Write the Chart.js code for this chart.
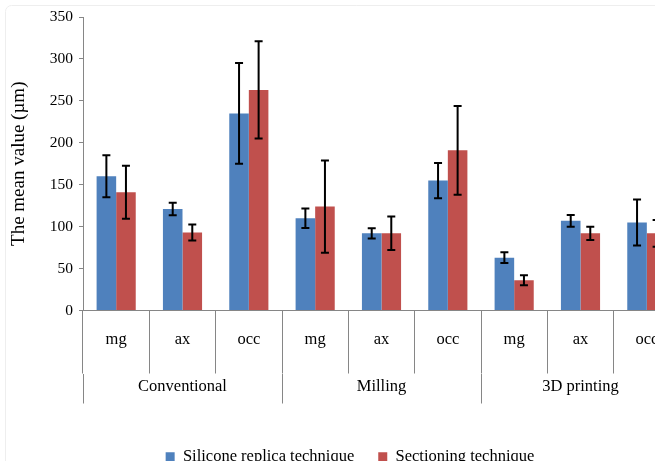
<!DOCTYPE html>
<html>
<head>
<meta charset="utf-8">
<script src="https://cdn.jsdelivr.net/npm/chart.js@4"></script>
<style>
  html, body { margin: 0; padding: 0; background: #fff; overflow: hidden; }
  #wrap { width: 700px; height: 475px; position: relative; }
</style>
</head>
<body>
<div id="wrap"><canvas id="gapChart"></canvas></div>
<script>
// data
const regions = ['mg', 'ax', 'occ', 'mg', 'ax', 'occ', 'mg', 'ax', 'occ'];
const techniques = ['Conventional', 'Milling', '3D printing'];
const siliconeMeans = [160, 121, 235, 110, 92, 155, 63, 107, 105];
const siliconeSD = [25, 7.5, 60, 11.5, 6, 21, 6.5, 7, 27.5];
const sectioningMeans = [141, 93, 263, 124, 92, 191, 36, 92, 92];
const sectioningSD = [31.5, 9.5, 58, 55, 20, 53, 6, 8, 16];
const yTicks = [0, 50, 100, 150, 200, 250, 300, 350];

const serifFamily = "'Liberation Serif', 'DejaVu Serif', serif";
const axisGrey = '#868686';

// whiskers drawn from the y scale
const errorBars = {
    id: 'errorBars',
    afterDatasetsDraw(chart) {
        const ctx = chart.ctx;
        const y = chart.scales.y;
        chart.data.datasets.forEach((ds, i) => {
            const meta = chart.getDatasetMeta(i);
            meta.data.forEach((bar, j) => {
                const v = ds.data[j], e = ds.errors[j];
                const top = y.getPixelForValue(v + e);
                const bot = y.getPixelForValue(v - e);
                ctx.save();
                ctx.strokeStyle = '#000';
                ctx.lineWidth = 2;
                ctx.beginPath();
                ctx.moveTo(bar.x, top); ctx.lineTo(bar.x, bot);
                ctx.moveTo(bar.x - 4, top); ctx.lineTo(bar.x + 4, top);
                ctx.moveTo(bar.x - 4, bot); ctx.lineTo(bar.x + 4, bot);
                ctx.stroke();
                ctx.restore();
            });
        });
    }
};

// faint outer frame of the chart area
const frame = {
    id: 'frame',
    beforeDraw(chart) {
        const ctx = chart.ctx;
        ctx.save();
        ctx.strokeStyle = '#eeeeee';
        ctx.lineWidth = 1;
        ctx.beginPath();
        ctx.roundRect(5.5, 5.5, chart.width + 20, chart.height + 20, 6);
        ctx.stroke();
        ctx.restore();
    }
};

new Chart(document.getElementById('gapChart'), {
    type: 'bar',
    data: {
        labels: regions,
        datasets: [{
            label: 'Silicone replica technique',
            data: siliconeMeans,
            errors: siliconeSD,
            backgroundColor: '#4F81BD'
        }, {
            label: 'Sectioning technique',
            data: sectioningMeans,
            errors: sectioningSD,
            backgroundColor: '#C0504D'
        }]
    },
    options: {
        responsive: true,
        maintainAspectRatio: false,
        animation: false,
        categoryPercentage: 0.59,
        barPercentage: 1,
        layout: { padding: { top: 17, right: 20, left: 20, bottom: 0 } },
        plugins: {
            legend: {
                position: 'bottom',
                labels: {
                    boxWidth: 9,
                    boxHeight: 9,
                    padding: 24,
                    color: '#000',
                    font: { family: serifFamily, size: 16.5 }
                }
            },
            tooltip: { enabled: false }
        },
        scales: {
            x: {
                offset: true,
                grid: { offset: true, drawOnChartArea: false, tickLength: 63, color: axisGrey },
                border: { color: axisGrey },
                ticks: { padding: -44, color: '#000', font: { family: serifFamily, size: 16.5 }, maxRotation: 0, autoSkip: false },
                afterFit(scale) { scale.height = 63; }
            },
            x2: {
                type: 'category',
                labels: techniques,
                position: 'bottom',
                offset: true,
                grid: { offset: true, drawOnChartArea: false, tickLength: 30, color: axisGrey },
                border: { display: false },
                ticks: { padding: -27, color: '#000', font: { family: serifFamily, size: 16.5 }, maxRotation: 0, autoSkip: false },
                afterFit(scale) { scale.height = 51; }
            },
            y: {
                min: 0,
                max: 350,
                afterBuildTicks(scale) { scale.ticks = yTicks.map(v => ({ value: v })); },
                grid: { drawOnChartArea: false, tickLength: 4, color: axisGrey },
                border: { color: axisGrey },
                ticks: { padding: 6, color: '#000', font: { family: serifFamily, size: 15.5 } },
                title: {
                    display: true,
                    text: 'The mean value (µm)',
                    color: '#000',
                    font: { family: serifFamily, size: 19 },
                    padding: { top: -12, bottom: 0 }
                },
                afterFit(scale) { scale.width = 63; }
            }
        }
    },
    plugins: [errorBars, frame]
});
</script>
</body>
</html>
